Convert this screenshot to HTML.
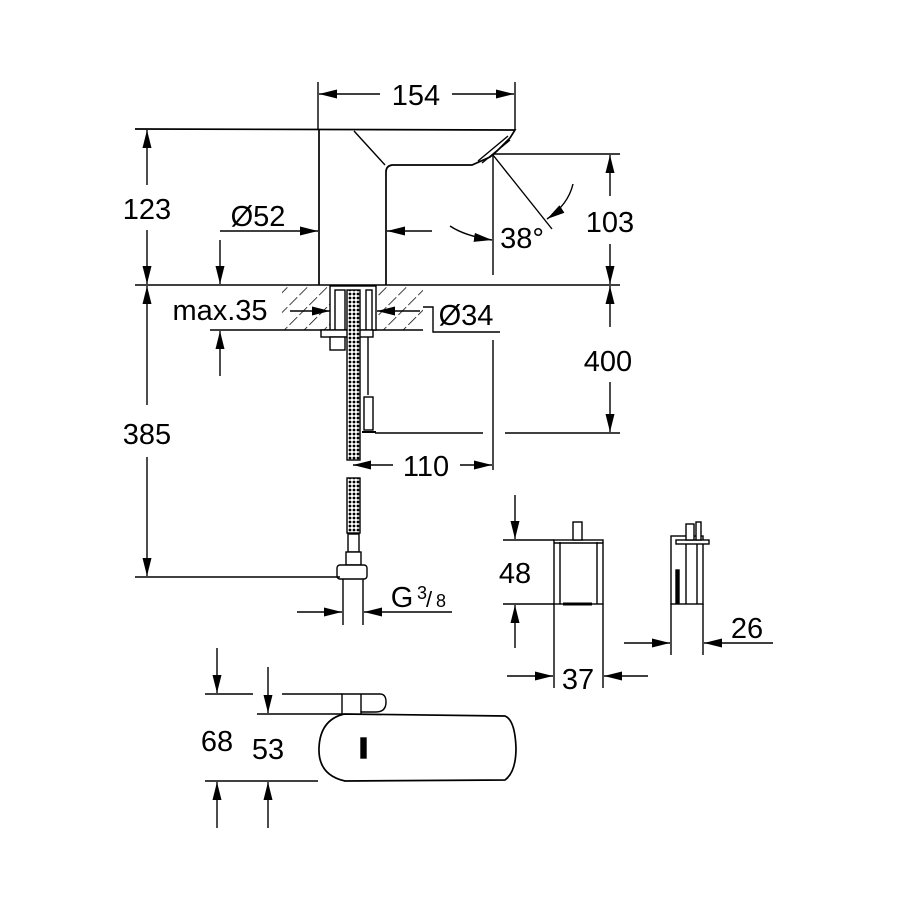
<!DOCTYPE html>
<html><head><meta charset="utf-8"><style>
html,body{margin:0;padding:0;background:#fff;}
svg{display:block}
text{font-family:"Liberation Sans",sans-serif;fill:#000;}
</style></head><body>
<svg width="900" height="900" viewBox="0 0 900 900" xmlns="http://www.w3.org/2000/svg">
<defs>
<marker id="a" viewBox="0 0 18 9" refX="18" refY="4.5" markerWidth="18" markerHeight="9" markerUnits="userSpaceOnUse" orient="auto">
<path d="M0,0 L18,4.5 L0,9 Z" fill="#000"/></marker>
<pattern id="h" width="14" height="14" patternUnits="userSpaceOnUse" patternTransform="rotate(45)">
<line x1="0" y1="0" x2="0" y2="14" stroke="#000" stroke-width="1.5" stroke-dasharray="11 3"/></pattern>
<pattern id="hose" width="4" height="4" patternUnits="userSpaceOnUse">
<rect width="4" height="4" fill="#fff"/><circle cx="2" cy="2" r="1.4" fill="#000"/></pattern>
</defs>
<g stroke="#000" stroke-width="1.4" fill="none">
<!-- 154 -->
<line x1="318" y1="82" x2="318" y2="130"/><line x1="515" y1="82" x2="515" y2="130"/>
<line x1="380" y1="94" x2="319" y2="94" marker-end="url(#a)"/>
<line x1="452" y1="94" x2="514" y2="94" marker-end="url(#a)"/>
<!-- faucet -->
<path d="M135,129 L515,130 L510,138 L497,151 L490,157 L472,165 L392,165 Q386,166 386,172 L386,285" stroke-width="1.7"/>
<line x1="319" y1="129" x2="319" y2="285" stroke-width="1.7"/>
<line x1="354" y1="131" x2="385" y2="165"/>
<path d="M478,161 L508,136 M482,163 L510,140" />
<!-- 123 -->
<line x1="147" y1="185" x2="147" y2="130" marker-end="url(#a)"/>
<line x1="147" y1="230" x2="147" y2="284" marker-end="url(#a)"/>
<!-- 103 -->
<line x1="493" y1="154" x2="620" y2="154"/>
<line x1="610" y1="196" x2="610" y2="155" marker-end="url(#a)"/>
<line x1="610" y1="244" x2="610" y2="284" marker-end="url(#a)"/>
<!-- 38 -->
<line x1="493" y1="155" x2="493" y2="275"/>
<line x1="493" y1="155" x2="552" y2="229"/>
<path d="M573,184 Q568,205 547,219" marker-end="url(#a)"/>
<path d="M450,226 Q465,236 492,240" marker-end="url(#a)"/>
<!-- Ø52 -->
<line x1="220" y1="231" x2="318" y2="231" marker-end="url(#a)"/>
<line x1="432" y1="231" x2="387" y2="231" marker-end="url(#a)"/>
<!-- floor -->
<line x1="135" y1="285" x2="620" y2="285"/>
<!-- counter -->
<rect x="282" y="285" width="141" height="45" fill="url(#h)" stroke="none"/>
<line x1="282" y1="330" x2="423" y2="330"/>
<rect x="330" y="286" width="46" height="44" fill="#fff"/>
<rect x="335" y="290" width="10" height="40" fill="#fff"/>
<rect x="366" y="290" width="6" height="40" fill="#fff"/>
<rect x="321" y="330" width="52" height="7" fill="#fff"/>
<rect x="330" y="337" width="15" height="13" fill="#fff"/>
<!-- max.35 -->
<line x1="210" y1="330" x2="282" y2="330"/>
<line x1="220" y1="240" x2="220" y2="284" marker-end="url(#a)"/>
<line x1="220" y1="376" x2="220" y2="331" marker-end="url(#a)"/>
<line x1="290" y1="311" x2="330" y2="311" marker-end="url(#a)"/>
<line x1="420" y1="311" x2="377" y2="311" marker-end="url(#a)"/>
<path d="M423,307 L433,307 L433,332 L500,332"/>
<!-- 400 -->
<line x1="610" y1="327" x2="610" y2="286" marker-end="url(#a)"/>
<line x1="610" y1="382" x2="610" y2="432" marker-end="url(#a)"/>
<line x1="375" y1="433" x2="483" y2="433"/><line x1="505" y1="433" x2="620" y2="433"/>
<!-- hose -->
<rect x="347" y="290" width="13" height="170" fill="url(#hose)"/>
<rect x="347" y="478" width="13" height="55" fill="url(#hose)"/>
<line x1="368" y1="337" x2="368" y2="395"/>
<rect x="364" y="397" width="9" height="33" fill="#fff"/>
<line x1="362" y1="432" x2="376" y2="432" stroke-width="2"/>
<rect x="348" y="534" width="11" height="18" fill="#fff"/>
<rect x="346" y="552" width="15" height="13" fill="#fff"/>
<rect x="337" y="565" width="30" height="14" rx="3" fill="#fff"/>
<line x1="343" y1="579" x2="343" y2="625"/><line x1="363" y1="579" x2="363" y2="625"/>
<!-- 110 -->
<line x1="493" y1="340" x2="493" y2="470"/>
<line x1="393" y1="465" x2="353" y2="465" marker-end="url(#a)"/>
<line x1="460" y1="465" x2="492" y2="465" marker-end="url(#a)"/>
<!-- 385 -->
<line x1="147" y1="405" x2="147" y2="286" marker-end="url(#a)"/>
<line x1="147" y1="457" x2="147" y2="576" marker-end="url(#a)"/>
<line x1="135" y1="577" x2="340" y2="577"/>
<!-- G3/8 -->
<line x1="297" y1="612" x2="342" y2="612" marker-end="url(#a)"/>
<line x1="452" y1="612" x2="364" y2="612" marker-end="url(#a)"/>
<!-- 48 box -->
<rect x="554" y="540" width="49" height="64" fill="#fff"/>
<line x1="560" y1="542" x2="560" y2="604"/><line x1="597" y1="542" x2="597" y2="604"/>
<line x1="554" y1="543" x2="603" y2="543"/>
<rect x="573" y="522" width="9" height="18" fill="#fff"/>
<line x1="563" y1="604" x2="592" y2="604" stroke-width="3"/>
<line x1="515" y1="495" x2="515" y2="539" marker-end="url(#a)"/>
<line x1="503" y1="540" x2="554" y2="540"/><line x1="503" y1="604" x2="554" y2="604"/>
<line x1="515" y1="648" x2="515" y2="605" marker-end="url(#a)"/>
<line x1="554" y1="604" x2="554" y2="688"/><line x1="603" y1="604" x2="603" y2="688"/>
<line x1="507" y1="676" x2="553" y2="676" marker-end="url(#a)"/>
<line x1="648" y1="676" x2="604" y2="676" marker-end="url(#a)"/>
<!-- side box -->
<rect x="671" y="536" width="32" height="68" fill="#fff"/>
<rect x="676" y="540" width="33" height="4" fill="#fff"/>
<line x1="686" y1="544" x2="686" y2="604"/><line x1="697" y1="544" x2="697" y2="604"/>
<rect x="676" y="570" width="3" height="33" fill="#000"/>
<rect x="686" y="524" width="8" height="16" fill="#fff"/>
<rect x="696" y="522" width="5" height="18" fill="#fff"/>
<line x1="671" y1="604" x2="671" y2="655"/><line x1="703" y1="604" x2="703" y2="655"/>
<line x1="624" y1="643" x2="670" y2="643" marker-end="url(#a)"/>
<line x1="773" y1="643" x2="704" y2="643" marker-end="url(#a)"/>
<!-- top view -->
<path d="M342,714 L342,694 L380,694 Q386,694 386,702 Q386,712 376,712 L361,712 L361,714"/>
<line x1="361" y1="694" x2="361" y2="712"/>
<path d="M344,714 L505,716 Q515,720 516,748 Q516,772 505,780 L345,781 Q318,775 319,748 Q320,720 344,714 Z" stroke-width="1.7"/>
<rect x="361" y="738" width="5" height="20" fill="#000"/>
<line x1="205" y1="694" x2="253" y2="694"/><line x1="282" y1="694" x2="342" y2="694"/>
<line x1="257" y1="714" x2="342" y2="714"/>
<line x1="205" y1="781" x2="318" y2="781"/>
<line x1="217" y1="648" x2="217" y2="693" marker-end="url(#a)"/>
<line x1="268" y1="667" x2="268" y2="713" marker-end="url(#a)"/>
<line x1="217" y1="828" x2="217" y2="782" marker-end="url(#a)"/>
<line x1="268" y1="828" x2="268" y2="782" marker-end="url(#a)"/>
</g>
<g font-size="29" text-anchor="middle">
<text x="416" y="105">154</text>
<text x="147" y="219">123</text>
<text x="258" y="226">Ø52</text>
<text x="522" y="248">38°</text>
<text x="610" y="232">103</text>
<text x="220" y="320">max.35</text>
<text x="466" y="325">Ø34</text>
<text x="608" y="371">400</text>
<text x="147" y="444">385</text>
<text x="426" y="476">110</text>
<text x="402" y="607">G</text>
<text x="515" y="583">48</text>
<text x="578" y="689">37</text>
<text x="747" y="638">26</text>
<text x="217" y="751">68</text>
<text x="268" y="759">53</text>
</g>
<text x="417" y="599" font-size="18">3</text>
<text x="426" y="607" font-size="22">/</text>
<text x="436" y="607" font-size="18">8</text>
</svg>
</body></html>
